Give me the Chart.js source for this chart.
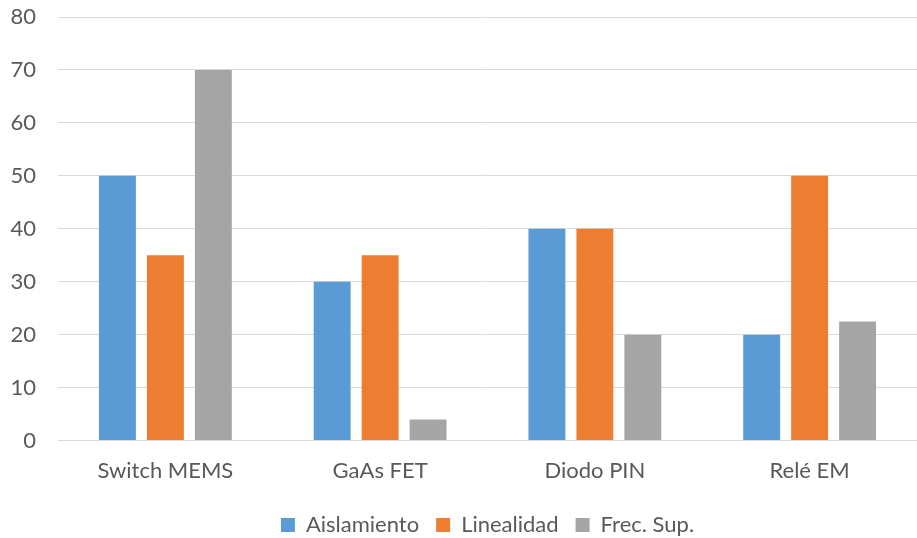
<!DOCTYPE html>
<html>
<head>
<meta charset="utf-8">
<script src="https://cdn.jsdelivr.net/npm/chart.js@4"></script>
<style>
  html, body { margin: 0; padding: 0; background: #ffffff; }
  #wrap { width: 917px; height: 538px; }
</style>
</head>
<body>
<div id="wrap"><canvas id="c" width="917" height="538"></canvas></div>
<script>
// Switch technologies compared on three criteria
const categories = ['Switch MEMS', 'GaAs FET', 'Diodo PIN', 'Relé EM'];
const aislamiento = [50, 30, 40, 20];
const linealidad = [35, 35, 40, 50];
const frecSup = [70, 4, 20, 22.5];
const yTicks = [0, 10, 20, 30, 40, 50, 60, 70, 80];

const textColor = '#595959';
const font = { family: "Lato, 'Open Sans', sans-serif", size: 22 };

new Chart(document.getElementById('c'), {
  type: 'bar',
  data: {
    labels: categories,
    datasets: [
      { label: 'Aislamiento', data: aislamiento, backgroundColor: '#5b9bd5' },
      { label: 'Linealidad', data: linealidad, backgroundColor: '#ed7d31' },
      { label: 'Frec. Sup.', data: frecSup, backgroundColor: '#a5a5a5' }
    ]
  },
  options: {
    responsive: false,
    animation: false,
    maintainAspectRatio: false,
    layout: { padding: { top: 17, right: 0, left: 0, bottom: -8 } },
    datasets: {
      bar: { categoryPercentage: 0.67, barPercentage: 0.77, borderWidth: 0 }
    },
    scales: {
      x: {
        afterFit: (axis) => { axis.height -= 4; },
        grid: { display: false, drawTicks: false },
        border: { display: true, color: '#d9d9d9', width: 1 },
        ticks: { color: textColor, font: font, padding: 17 }
      },
      y: {
        min: 0,
        max: 80,
        afterBuildTicks: (axis) => { axis.ticks = yTicks.map(v => ({ value: v })); },
        afterFit: (axis) => {
          axis.width = 58;
          axis.paddingTop = 0;
          axis.paddingBottom = 0;
        },
        grid: { color: '#d9d9d9', lineWidth: 1, drawTicks: false },
        border: { display: false },
        ticks: { color: textColor, font: font, padding: 22 }
      }
    },
    plugins: {
      tooltip: { enabled: false },
      legend: {
        position: 'bottom',
        fullSize: false,
        labels: {
          color: textColor,
          font: font,
          boxWidth: 14,
          boxHeight: 14,
          padding: 17
        }
      }
    }
  }
});
</script>
</body>
</html>
